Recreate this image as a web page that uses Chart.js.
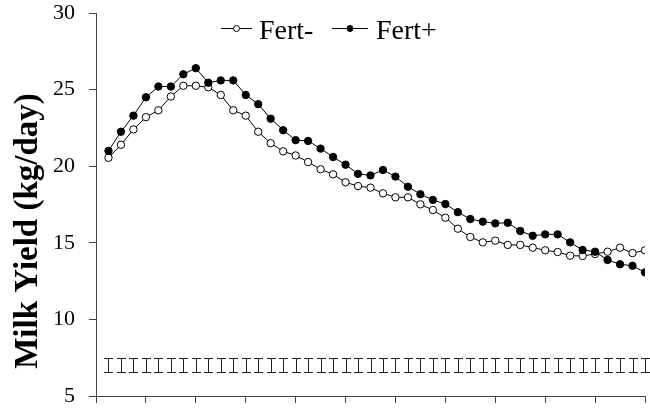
<!DOCTYPE html>
<html>
<head>
<meta charset="utf-8">
<script src="https://cdn.jsdelivr.net/npm/chart.js@4/dist/chart.umd.min.js"></script>
<style>
  body { margin: 0; background: #fff; }
  #wrap { width: 650px; height: 412px; }
</style>
</head>
<body>
<div id="wrap"><canvas id="milkChart" width="650" height="412"></canvas></div>
<script>
// Weeks of lactation
const weeks = [1, 2, 3, 4, 5, 6, 7, 8, 9, 10, 11, 12, 13, 14, 15, 16, 17, 18, 19, 20, 21, 22,
    23, 24, 25, 26, 27, 28, 29, 30, 31, 32, 33, 34, 35, 36, 37, 38, 39, 40, 41, 42, 43, 44];

const fertMinus = [20.55, 21.4, 22.4, 23.2, 23.65, 24.55, 25.25, 25.25, 25.15, 24.65, 23.65,
    23.3, 22.25, 21.5, 20.97, 20.7, 20.27, 19.8, 19.47, 18.95, 18.7, 18.6,
    18.23, 17.97, 17.97, 17.51, 17.14, 16.64, 15.92, 15.38, 15.03, 15.14, 14.86,
    14.86, 14.68, 14.51, 14.4, 14.16, 14.14, 14.27, 14.42, 14.68, 14.33, 14.51];

const fertPlus = [21.0, 22.25, 23.3, 24.5, 25.2, 25.2, 26.0, 26.4, 25.45, 25.6, 25.6,
    24.65, 24.05, 23.1, 22.35, 21.7, 21.65, 21.15, 20.6, 20.1, 19.5, 19.4,
    19.75, 19.32, 18.66, 18.17, 17.8, 17.53, 17.0, 16.55, 16.38, 16.27, 16.31,
    15.77, 15.46, 15.55, 15.55, 15.03, 14.53, 14.42, 13.88, 13.6, 13.5, 13.07];

// SE bars drawn along the bottom of the plot
const errCenter = [7, 7, 7, 7, 7, 7, 7, 7, 7, 7, 7, 7, 7, 7, 7, 7, 7, 7, 7, 7, 7, 7,
    7, 7, 7, 7, 7, 7, 7, 7, 7, 7, 7, 7, 7, 7, 7, 7, 7, 7, 7, 7, 7, 7];
const errHalf = [0.45, 0.45, 0.45, 0.45, 0.45, 0.45, 0.45, 0.45, 0.45, 0.45, 0.45,
    0.45, 0.45, 0.45, 0.45, 0.45, 0.45, 0.45, 0.45, 0.45, 0.45, 0.45,
    0.45, 0.45, 0.45, 0.45, 0.45, 0.45, 0.45, 0.45, 0.45, 0.45, 0.45,
    0.45, 0.45, 0.45, 0.45, 0.45, 0.45, 0.45, 0.45, 0.45, 0.45, 0.45];

const yTicks = [5, 10, 15, 20, 25, 30];
const yTitle = 'Milk Yield (kg/day)';

const serif = "'Liberation Serif', 'Times New Roman', serif";

const errorBars = {
    id: 'errorBars',
    afterDatasetsDraw(chart) {
        const { ctx, scales: { x, y } } = chart;
        ctx.save();
        ctx.strokeStyle = '#222';
        ctx.lineWidth = 1;
        weeks.forEach((w, i) => {
            const px = Math.round(x.getPixelForValue(w)) + 0.5;
            const top = Math.round(y.getPixelForValue(errCenter[i] + errHalf[i])) + 0.5;
            const bot = Math.round(y.getPixelForValue(errCenter[i] - errHalf[i])) + 0.5;
            ctx.beginPath();
            ctx.moveTo(px, top); ctx.lineTo(px, bot);
            ctx.moveTo(px - 4.5, top); ctx.lineTo(px + 4.5, top);
            ctx.moveTo(px - 4.5, bot); ctx.lineTo(px + 4.5, bot);
            ctx.stroke();
        });
        ctx.restore();
    }
};

// legend with line + marker, and rotated axis title
const extras = {
    id: 'extras',
    afterDraw(chart) {
        const ctx = chart.ctx;
        ctx.save();
        ctx.strokeStyle = '#000';
        ctx.lineWidth = 1;
        ctx.font = '28px ' + serif;
        ctx.fillStyle = '#000';
        ctx.textBaseline = 'alphabetic';
        const items = [
            { ds: chart.data.datasets[0], x0: 221, x1: 252, text: 259 },
            { ds: chart.data.datasets[1], x0: 332, x1: 368, text: 376 }
        ];
        items.forEach(it => {
            const ly = 28.5;
            ctx.beginPath();
            ctx.moveTo(it.x0, ly); ctx.lineTo(it.x1, ly);
            ctx.stroke();
            ctx.beginPath();
            ctx.arc((it.x0 + it.x1) / 2, ly, 3, 0, Math.PI * 2);
            ctx.fillStyle = it.ds.pointBackgroundColor;
            ctx.fill();
            ctx.stroke();
            ctx.fillStyle = '#000';
            ctx.fillText(it.ds.label, it.text, 39);
        });

        ctx.translate(28, 231);
        ctx.rotate(-Math.PI / 2);
        ctx.font = 'bold 33px ' + serif;
        ctx.textAlign = 'center';
        ctx.textBaseline = 'middle';
        ctx.fillText(yTitle, 0, 0);
        ctx.restore();
    }
};

new Chart(document.getElementById('milkChart'), {
    type: 'line',
    data: {
        datasets: [{
            label: 'Fert-',
            data: weeks.map((w, i) => ({ x: w, y: fertMinus[i] })),
            borderColor: '#000',
            borderWidth: 1,
            pointRadius: 3.7,
            pointBackgroundColor: '#fff',
            pointBorderColor: '#000',
            pointBorderWidth: 1,
            tension: 0,
            order: 1
        }, {
            label: 'Fert+',
            data: weeks.map((w, i) => ({ x: w, y: fertPlus[i] })),
            borderColor: '#000',
            borderWidth: 1,
            pointRadius: 3.7,
            pointBackgroundColor: '#000',
            pointBorderColor: '#000',
            pointBorderWidth: 1,
            tension: 0,
            order: 0
        }]
    },
    options: {
        responsive: false,
        animation: false,
        layout: { padding: { top: 13, right: 0, bottom: 0, left: 0 } },
        plugins: {
            legend: { display: false },
            tooltip: { enabled: false }
        },
        scales: {
            x: {
                type: 'linear',
                min: 0,
                max: 44,
                afterBuildTicks: s => { s.ticks = [0, 4, 8, 12, 16, 20, 24, 28, 32, 36, 40, 44].map(v => ({ value: v })); },
                afterFit: s => { s.height = 16; s.paddingLeft = 0; s.paddingRight = 0; },
                ticks: { display: false },
                grid: { drawOnChartArea: false, drawTicks: true, tickLength: 7, color: '#444' },
                border: { display: true, color: '#444', width: 1 }
            },
            y: {
                min: 5,
                max: 30,
                afterBuildTicks: s => { s.ticks = yTicks.map(v => ({ value: v })); },
                afterFit: s => { s.width = 96; s.paddingTop = 0; s.paddingBottom = 0; },
                ticks: { color: '#000', padding: 14, font: { family: serif, size: 22 } },
                grid: { drawOnChartArea: false, drawTicks: true, tickLength: 7, color: '#444' },
                border: { display: true, color: '#444', width: 1 }
            }
        }
    },
    plugins: [errorBars, extras]
});
</script>
</body>
</html>
